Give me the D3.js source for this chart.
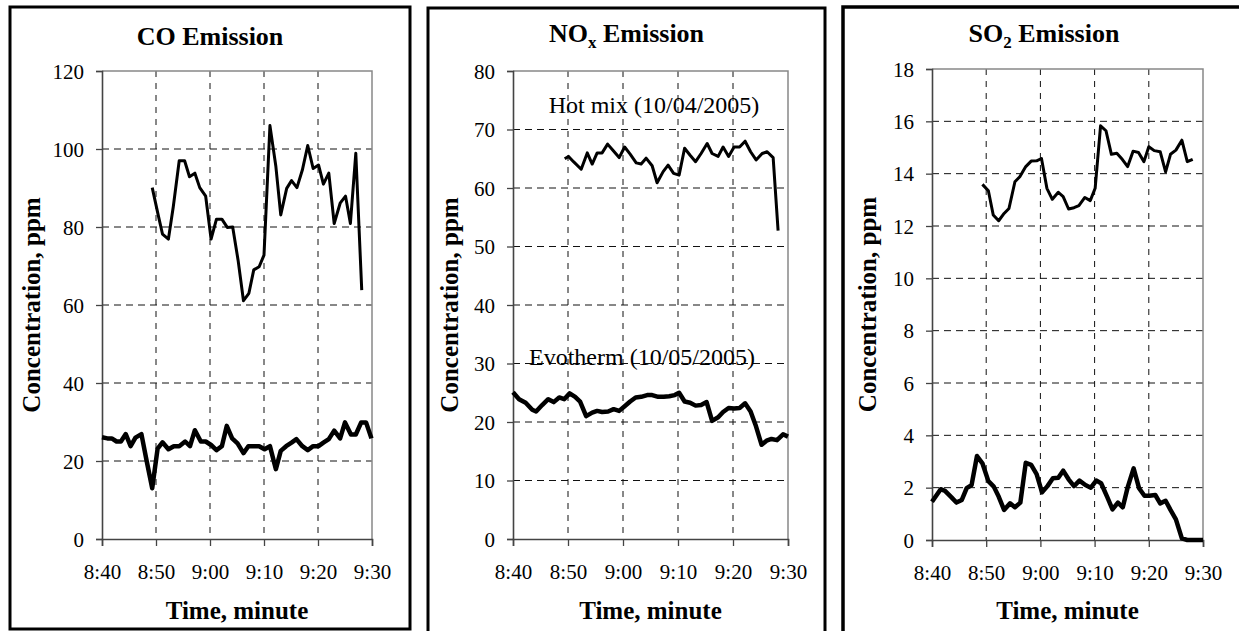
<!DOCTYPE html>
<html><head><meta charset="utf-8">
<script src="https://cdn.jsdelivr.net/npm/d3@7/dist/d3.min.js"></script>
<style>
html,body{margin:0;padding:0;background:#fff;}
svg{display:block;}
svg text{font-family:"Liberation Serif","Times New Roman",serif !important;}
</style></head>
<body>
<svg id="c" width="1239" height="631"></svg>
<script>
// ---- data (minutes after 8:40, concentration in ppm) ----
const xTickVals = [0, 10, 20, 30, 40, 50];
const xTickLabels = ["8:40", "8:50", "9:00", "9:10", "9:20", "9:30"];

const coTicks = [0, 20, 40, 60, 80, 100, 120];
const noxTicks = [0, 10, 20, 30, 40, 50, 60, 70, 80];
const so2Ticks = [0, 2, 4, 6, 8, 10, 12, 14, 16, 18];

const coHotT = [9.3,10.4,11.2,12.3,13.2,14.3,15.3,16.2,17.2,18.1,19.2,20.2,21.2,22.2,23.2,24.2,25.2,26.2,27.2,28.1,29.1,30.0,31.1,32.2,33.1,34.2,35.1,36.1,37.1,38.1,39.1,40.1,41.0,42.0,43.0,44.1,45.1,46.0,47.0,48.1];
const coHotV = [90.1,83.1,78.2,76.9,85.2,97,97,92.9,93.8,90.1,87.9,76.9,82,82,79.9,80,71.5,61.1,63,69,69.8,72.8,106,95.5,83.1,89.9,91.9,90.1,94.6,100.9,95,95.9,91,93.8,80.9,86.1,87.9,80.9,98.9,63.8];
const coEvoT = [0,1.0,1.8,2.7,3.5,4.4,5.3,6.2,7.3,8.3,9.3,10.3,11.2,12.3,13.3,14.3,15.4,16.3,17.2,18.3,19.2,20.2,21.2,22.2,23.1,24.1,25.1,26.2,27.1,28.1,29.1,30.1,31.1,32.2,33.1,34.1,35.1,36.0,37.1,38.1,39.1,40.1,41.0,42.0,43.0,44.1,45.0,46.1,47.0,48.0,48.9,49.9];
const coEvoV = [26.1,25.8,25.8,25.0,25.0,26.9,23.8,26.0,26.9,19.8,13.0,23.2,24.8,23.0,23.8,23.8,25.0,23.8,27.9,25.0,25.0,24.1,22.8,23.8,29.0,25.8,24.5,22.0,23.8,23.8,23.8,23.0,23.8,17.9,22.6,23.8,24.7,25.6,23.8,22.8,23.8,23.8,24.7,25.6,27.8,25.8,29.9,26.8,26.8,29.9,29.9,25.8];

const noxHotT = [9.4,10.1,11.0,12.4,13.5,14.4,15.3,16.2,17.2,18.2,19.3,20.3,21.3,22.4,23.3,24.2,25.3,26.2,27.3,28.2,29.2,30.2,31.2,32.2,33.2,34.2,35.3,36.2,37.3,38.2,39.2,40.2,41.2,42.2,43.2,44.2,45.3,46.2,47.3,48.2];
const noxHotV = [65.0,65.4,64.5,63.2,66.0,64.1,66.0,66.0,67.5,66.4,65.2,67.0,65.8,64.3,64.1,65.1,63.8,60.9,62.8,63.9,62.5,62.2,66.8,65.6,64.5,65.9,67.6,65.9,65.4,67.0,65.4,67.0,67.0,68.0,66.2,64.8,65.9,66.2,65.2,52.7];
const noxEvoT = [0,1.1,2.3,3.5,4.2,5.3,6.4,7.4,8.4,9.3,10.3,11.3,12.2,13.3,14.4,15.3,16.2,17.3,18.3,19.3,20.3,21.3,22.3,23.3,24.4,25.3,26.4,27.4,28.4,29.4,30.2,31.2,32.2,33.2,34.2,35.2,36.2,37.3,38.2,39.2,40.2,41.2,42.2,43.2,44.1,45.2,46.1,47.0,48.0,49.1,50.0];
const noxEvoV = [25.1,23.9,23.3,22.1,21.8,22.9,23.9,23.4,24.2,23.9,24.9,24.3,23.5,21.0,21.6,21.9,21.7,21.8,22.2,21.9,22.7,23.5,24.2,24.3,24.6,24.6,24.3,24.3,24.4,24.6,25.0,23.5,23.3,22.8,22.9,23.4,20.2,20.8,21.7,22.4,22.3,22.4,23.2,21.8,19.5,16.1,16.8,17.1,16.9,17.9,17.5];

const so2HotT = [9.3,10.4,11.3,12.3,13.3,14.2,15.3,16.2,17.3,18.3,19.3,20.2,21.2,22.2,23.3,24.2,25.2,26.2,27.1,28.2,29.2,30.1,31.1,32.1,33.1,34.1,35.1,36.1,37.1,38.1,39.1,40.0,41.0,42.1,43.1,44.0,45.0,46.1,47.1,48.1];
const so2HotV = [13.59,13.35,12.42,12.20,12.48,12.67,13.69,13.88,14.27,14.48,14.49,14.58,13.44,13.02,13.29,13.12,12.65,12.70,12.78,13.09,12.97,13.44,15.83,15.64,14.74,14.78,14.55,14.27,14.86,14.81,14.46,15.03,14.88,14.84,14.07,14.74,14.90,15.28,14.46,14.55];
const so2EvoT = [0,1.6,2.4,3.6,4.5,5.5,6.4,7.3,8.3,9.3,10.4,11.4,12.3,13.3,14.4,15.3,16.3,17.3,18.3,19.3,20.3,21.3,22.3,23.3,24.2,25.2,26.2,27.2,28.3,29.3,30.3,31.2,32.3,33.3,34.3,35.2,36.1,37.2,38.2,39.2,40.1,41.2,42.1,43.1,44.0,45.0,46.1,47.1,48.1,50.0];
const so2EvoV = [1.46,1.94,1.88,1.63,1.43,1.53,1.98,2.10,3.21,2.93,2.25,2.04,1.66,1.15,1.40,1.25,1.43,2.95,2.87,2.52,1.82,2.06,2.36,2.38,2.65,2.32,2.06,2.27,2.10,2.00,2.27,2.17,1.66,1.17,1.43,1.25,2.01,2.74,1.98,1.69,1.69,1.72,1.40,1.50,1.15,0.79,0.06,0,0,0];

const hotLabel = "Hot mix (10/04/2005)";
const evoLabel = "Evotherm (10/05/2005)";
const yTitle = "Concentration, ppm";
const xTitle = "Time, minute";

// ---- drawing ----
const svg = d3.select("#c");
const zip = (t, v) => t.map((d, i) => ({t: d, v: v[i]}));

const panels = [
  {frame:[10,7,400,622], fw:3, main:"CO", sub:"", rest:" Emission", titleY:45,
   plot:{l:102,r:372,t:71,b:539}, ticks:coTicks, lines:[[coHotT,coHotV,3],[coEvoT,coEvoV,4.5]], ytx:31},
  {frame:[428,8,397,640], fw:3, main:"NO", sub:"x", rest:" Emission", titleY:42,
   plot:{l:513,r:788,t:71,b:539}, ticks:noxTicks, lines:[[noxHotT,noxHotV,3],[noxEvoT,noxEvoV,4.5]], ytx:449,
   notes:[[hotLabel,654,113],[evoLabel,642,365]]},
  {frame:[843,7,402,640], fw:3.5, main:"SO", sub:"2", rest:" Emission", titleY:42,
   plot:{l:932,r:1203,t:69,b:540}, ticks:so2Ticks, lines:[[so2HotT,so2HotV,3],[so2EvoT,so2EvoV,4.5]], ytx:867}
];

panels.forEach(p => {
  const g = svg.append("g");
  const [fx, fy, fwid, fh] = p.frame;
  g.append("rect").attr("x", fx).attr("y", fy).attr("width", fwid).attr("height", fh)
    .attr("fill", "#fff").attr("stroke", "#000").attr("stroke-width", p.fw);

  const P = p.plot;
  const x = d3.scaleLinear().domain([0, 50]).range([P.l, P.r]);
  const yMax = p.ticks[p.ticks.length - 1];
  const y = d3.scaleLinear().domain([0, yMax]).range([P.b, P.t]);

  // gridlines
  g.append("g").selectAll("line.hg").data(p.ticks.filter(d => d > 0 && d < yMax)).join("line")
    .attr("x1", P.l).attr("x2", P.r).attr("y1", d => y(d)).attr("y2", d => y(d))
    .attr("stroke", "#111").attr("stroke-width", 1).attr("stroke-dasharray", "7,5");
  g.append("g").selectAll("line.vg").data(xTickVals.filter(d => d > 0 && d < 50)).join("line")
    .attr("y1", P.t).attr("y2", P.b).attr("x1", d => x(d)).attr("x2", d => x(d))
    .attr("stroke", "#111").attr("stroke-width", 1).attr("stroke-dasharray", "6,6");
  // plot border top/right
  g.append("path").attr("d", `M${P.l},${P.t}H${P.r}V${P.b}`).attr("fill", "none")
    .attr("stroke", "#888").attr("stroke-width", 1.5);

  // axes
  const ya = g.append("g").attr("transform", `translate(${P.l},0)`)
    .call(d3.axisLeft(y).tickValues(p.ticks).tickSize(6).tickPadding(12).tickFormat(d3.format("d")));
  const xa = g.append("g").attr("transform", `translate(0,${P.b})`)
    .call(d3.axisBottom(x).tickValues(xTickVals).tickSize(7).tickPadding(18)
      .tickFormat((d, i) => xTickLabels[i]));
  [ya, xa].forEach(a => {
    a.attr("font-family", null).attr("font-size", 21);
    a.select(".domain").attr("stroke", "#444").attr("stroke-width", 1.6);
    a.selectAll(".tick line").attr("stroke", "#444").attr("stroke-width", 1.3);
    a.selectAll("text").attr("font-size", 21).attr("fill", "#000");
  });
  ya.selectAll("text").attr("dy", "0.34em");

  // lines
  const line = d3.line().x(d => x(d.t)).y(d => y(d.v));
  p.lines.forEach(([t, v, w]) => {
    g.append("path").datum(zip(t, v)).attr("d", line).attr("fill", "none")
      .attr("stroke", "#000").attr("stroke-width", w)
      .attr("stroke-linejoin", "round").attr("stroke-linecap", "butt");
  });

  // notes
  (p.notes || []).forEach(([txt, nx, ny]) => {
    g.append("text").attr("x", nx).attr("y", ny).attr("text-anchor", "middle")
      .attr("font-size", 24).text(txt);
  });

  // title
  const cx = fx + fwid / 2;
  const tt = g.append("text").attr("x", cx).attr("y", p.titleY).attr("text-anchor", "middle")
    .attr("font-size", 26).attr("font-weight", "bold");
  tt.append("tspan").text(p.main);
  tt.append("tspan").attr("font-size", 17).attr("dy", 6).text(p.sub || "");
  tt.append("tspan").attr("dy", p.sub ? -6 : 0).text(p.rest);

  // axis titles
  g.append("text").attr("transform", `translate(${p.ytx},${(P.t + P.b) / 2}) rotate(-90)`)
    .attr("text-anchor", "middle").attr("dy", "0.35em").attr("font-size", 25).attr("font-weight", "bold")
    .text(yTitle);
  g.append("text").attr("x", (P.l + P.r) / 2).attr("y", 619).attr("text-anchor", "middle")
    .attr("font-size", 25).attr("font-weight", "bold").text(xTitle);
});
</script>
</body></html>
